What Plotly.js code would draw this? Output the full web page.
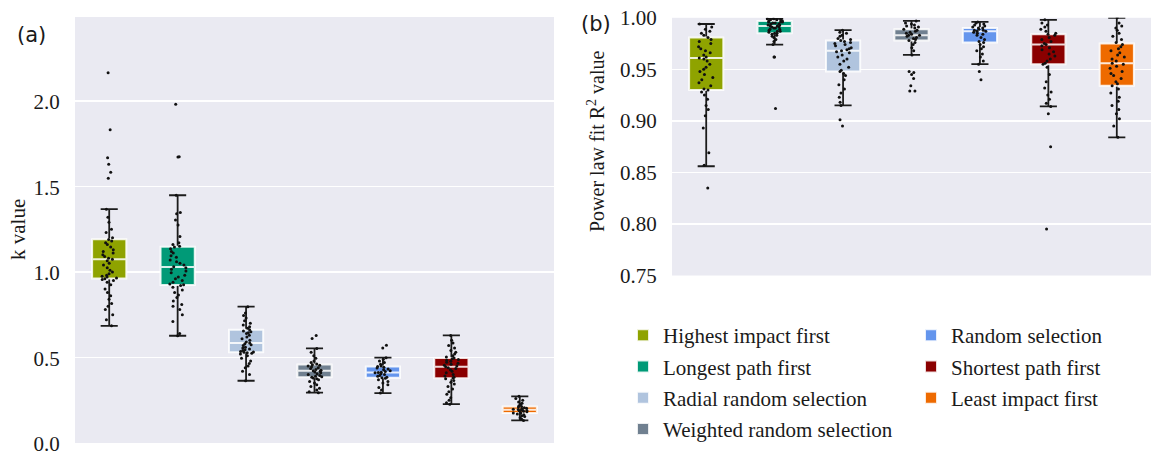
<!DOCTYPE html>
<html>
<head>
<meta charset="utf-8">
<script src="https://cdn.plot.ly/plotly-3.0.1.min.js"></script>
<style>html,body{margin:0;padding:0;background:#fff;}#chart{width:1156px;height:455px;}</style>
</head>
<body>
<div id="chart"></div>
<script>
// ---- categories & colours ----
const categories = ["Highest impact first", "Longest path first", "Radial random selection",
  "Weighted random selection", "Random selection", "Shortest path first", "Least impact first"];
const colors = ["#8fa300", "#009a77", "#b0c4de", "#708090", "#6495ed", "#8b0000", "#ee6a00"];

// ---- panel (a): k value box statistics ----
const kQ1     = [0.961, 0.923, 0.530, 0.385, 0.381, 0.379, 0.175];
const kMedian = [1.074, 1.029, 0.584, 0.422, 0.412, 0.445, 0.194];
const kQ3     = [1.191, 1.147, 0.662, 0.459, 0.447, 0.497, 0.213];
const kLower  = [0.685, 0.627, 0.364, 0.294, 0.292, 0.227, 0.132];
const kUpper  = [1.367, 1.448, 0.797, 0.553, 0.499, 0.629, 0.273];

// ---- panel (a): individual k values ----
const kHighest = [2.164,1.831,1.667,1.630,1.582,1.547,1.367,1.320,1.290,1.250,1.230,1.200,1.190,1.180,1.170,1.160,1.145,1.130,1.120,1.110,1.100,1.090,1.080,1.074,1.065,1.050,1.040,1.025,1.010,1.000,0.990,0.980,0.975,0.970,0.965,0.960,0.955,0.950,0.940,0.925,0.900,0.880,0.860,0.840,0.815,0.800,0.780,0.750,0.720,0.685];
const kLongest = [1.980,1.673,1.672,1.448,1.348,1.340,1.303,1.274,1.207,1.170,1.160,1.150,1.145,1.135,1.120,1.110,1.095,1.085,1.070,1.060,1.050,1.040,1.030,1.025,1.015,1.005,0.995,0.980,0.970,0.960,0.950,0.940,0.930,0.925,0.920,0.910,0.895,0.880,0.865,0.850,0.830,0.810,0.800,0.780,0.750,0.710,0.640,0.627];
const kRadial = [0.797,0.760,0.745,0.730,0.715,0.700,0.690,0.680,0.670,0.662,0.655,0.650,0.645,0.640,0.630,0.620,0.610,0.600,0.590,0.585,0.580,0.575,0.570,0.560,0.555,0.550,0.545,0.540,0.535,0.532,0.530,0.528,0.525,0.520,0.510,0.495,0.480,0.465,0.450,0.440,0.420,0.400,0.364];
const kWeighted = [0.629,0.611,0.553,0.530,0.510,0.495,0.480,0.470,0.462,0.458,0.455,0.450,0.445,0.440,0.435,0.430,0.425,0.422,0.420,0.415,0.410,0.405,0.400,0.395,0.390,0.387,0.385,0.380,0.375,0.370,0.360,0.350,0.340,0.330,0.320,0.310,0.300,0.294];
const kRandom = [0.571,0.555,0.499,0.490,0.480,0.470,0.460,0.450,0.447,0.443,0.438,0.432,0.428,0.422,0.418,0.414,0.412,0.410,0.405,0.400,0.395,0.390,0.385,0.382,0.378,0.370,0.360,0.350,0.340,0.325,0.310,0.292];
const kShortest = [0.629,0.600,0.585,0.570,0.555,0.540,0.530,0.520,0.510,0.502,0.497,0.492,0.488,0.483,0.478,0.472,0.466,0.460,0.455,0.450,0.445,0.440,0.435,0.428,0.420,0.410,0.400,0.392,0.385,0.380,0.375,0.365,0.355,0.345,0.330,0.315,0.300,0.285,0.265,0.250,0.235,0.227];
const kLeast = [0.273,0.260,0.250,0.240,0.232,0.225,0.218,0.214,0.210,0.206,0.203,0.200,0.198,0.196,0.194,0.192,0.190,0.188,0.185,0.182,0.179,0.176,0.174,0.170,0.165,0.160,0.155,0.148,0.140,0.132];

// ---- panel (b): power-law fit R² box statistics ----
const r2Q1     = [0.930, 0.985, 0.948, 0.978, 0.976, 0.955, 0.934];
const r2Median = [0.961, 0.992, 0.968, 0.983, 0.987, 0.974, 0.956];
const r2Q3     = [0.981, 0.997, 0.978, 0.989, 0.990, 0.984, 0.975];
const r2Lower  = [0.856, 0.974, 0.915, 0.964, 0.955, 0.914, 0.884];
const r2Upper  = [0.994, 0.999, 0.988, 0.997, 0.996, 0.998, 1.000];

// ---- panel (b): individual R² values ----
const r2Highest = [0.994,0.991,0.989,0.987,0.985,0.983,0.981,0.979,0.977,0.975,0.972,0.970,0.968,0.966,0.964,0.962,0.961,0.960,0.958,0.955,0.952,0.950,0.948,0.945,0.942,0.940,0.937,0.934,0.931,0.930,0.928,0.925,0.921,0.915,0.911,0.905,0.893,0.869,0.857,0.835];
const r2Longest = [0.999,0.999,0.998,0.998,0.998,0.997,0.997,0.996,0.996,0.996,0.995,0.995,0.994,0.994,0.993,0.993,0.992,0.992,0.991,0.991,0.990,0.990,0.989,0.989,0.988,0.987,0.987,0.986,0.985,0.985,0.984,0.983,0.982,0.981,0.979,0.977,0.974,0.962,0.962,0.912];
const r2Radial = [0.988,0.986,0.985,0.983,0.982,0.980,0.979,0.978,0.977,0.976,0.975,0.974,0.973,0.971,0.970,0.969,0.968,0.967,0.966,0.964,0.962,0.960,0.958,0.955,0.952,0.949,0.948,0.946,0.944,0.940,0.935,0.931,0.927,0.923,0.918,0.915,0.901,0.895];
const r2Weighted = [0.997,0.995,0.994,0.993,0.992,0.991,0.990,0.989,0.988,0.987,0.986,0.985,0.984,0.983,0.983,0.982,0.981,0.980,0.979,0.978,0.976,0.974,0.971,0.968,0.964,0.948,0.947,0.945,0.941,0.934,0.929,0.929];
const r2Random = [0.996,0.995,0.994,0.993,0.992,0.991,0.990,0.990,0.989,0.988,0.988,0.987,0.987,0.986,0.985,0.984,0.983,0.981,0.979,0.977,0.976,0.974,0.972,0.970,0.968,0.965,0.962,0.958,0.955,0.948,0.940];
const r2Shortest = [0.998,0.995,0.993,0.991,0.989,0.987,0.985,0.984,0.983,0.981,0.979,0.977,0.975,0.974,0.973,0.971,0.969,0.967,0.965,0.963,0.960,0.958,0.956,0.955,0.952,0.945,0.938,0.932,0.928,0.925,0.921,0.917,0.914,0.907,0.875,0.795];
const r2Least = [1.000,0.995,0.992,0.990,0.988,0.985,0.982,0.979,0.976,0.974,0.972,0.970,0.968,0.966,0.964,0.962,0.960,0.958,0.956,0.955,0.953,0.951,0.948,0.946,0.944,0.941,0.938,0.936,0.934,0.931,0.927,0.923,0.919,0.915,0.911,0.907,0.902,0.895,0.884];

// ---- tick labels ----
const kTickVals = [0, 0.5, 1.0, 1.5, 2.0];
const kTickText = ["0.0", "0.5", "1.0", "1.5", "2.0"];
const r2TickVals = [0.75, 0.80, 0.85, 0.90, 0.95, 1.00];
const r2TickText = ["0.75", "0.80", "0.85", "0.90", "0.95", "1.00"];

const kSamples = [kHighest, kLongest, kRadial, kWeighted, kRandom, kShortest, kLeast];
const r2Samples = [r2Highest, r2Longest, r2Radial, r2Weighted, r2Random, r2Shortest, r2Least];

const SERIF = "Liberation Serif, Times New Roman, serif";
const BOXW = 0.5;

function panelTraces(q1, med, q3, lo, hi, samples, xa, ya, withLegend) {
  const tr = [];
  // black whiskers + caps (box collapsed onto the median, hidden by coloured box)
  tr.push({
    type: "box", x: categories, q1: med, median: med, q3: med,
    lowerfence: lo, upperfence: hi, boxpoints: false,
    xaxis: xa, yaxis: ya, width: BOXW, whiskerwidth: 0.5,
    line: {color: "#1c1c1c", width: 1.8}, fillcolor: "rgba(0,0,0,0)",
    showlegend: false, hoverinfo: "skip"
  });
  // coloured interquartile boxes with white median
  categories.forEach((c, i) => {
    tr.push({
      type: "box", name: c, x: [c], q1: [q1[i]], median: [med[i]], q3: [q3[i]],
      lowerfence: [q1[i]], upperfence: [q3[i]], boxpoints: false,
      xaxis: xa, yaxis: ya, width: BOXW, whiskerwidth: 0,
      fillcolor: colors[i], line: {color: "rgba(255,255,255,0.85)", width: 2},
      showlegend: withLegend, legend: i < 4 ? "legend" : "legend2",
      legendgroup: "g" + i, hoverinfo: "skip"
    });
  });
  // jittered individual values
  const px = [], py = [];
  samples.forEach((arr, i) => arr.forEach(v => { px.push(categories[i]); py.push(v); }));
  tr.push({
    type: "box", x: px, y: py, boxpoints: "all", jitter: 0.5, pointpos: 0,
    xaxis: xa, yaxis: ya, width: BOXW,
    marker: {color: "#111", size: 3}, line: {color: "rgba(0,0,0,0)", width: 0},
    fillcolor: "rgba(0,0,0,0)", showlegend: false, hoverinfo: "skip"
  });
  return tr;
}

const data = [].concat(
  panelTraces(kQ1, kMedian, kQ3, kLower, kUpper, kSamples, "x", "y", true),
  panelTraces(r2Q1, r2Median, r2Q3, r2Lower, r2Upper, r2Samples, "x2", "y2", false)
);

const W = 1156, H = 455;
const tickFont = {family: SERIF, size: 21, color: "#1a1a1a"};
const xCommon = {showticklabels: false, showgrid: false, zeroline: false, showline: false,
  ticks: "", range: [-0.5, 6.5], type: "category", categoryorder: "array", categoryarray: categories};
const yCommon = {showgrid: true, gridcolor: "#ffffff", gridwidth: 1.6, zeroline: false, showline: false,
  ticks: "outside", ticklen: 10, tickcolor: "rgba(0,0,0,0)", tickfont: tickFont,
  ticklabeloverflow: "allow"};

const legendFont = {family: SERIF, size: 21, color: "#1a1a1a"};

const layout = {
  width: W, height: H,
  margin: {l: 0, r: 0, t: 0, b: 0},
  paper_bgcolor: "#ffffff", plot_bgcolor: "#eaeaf2",
  boxmode: "overlay", hovermode: false,
  xaxis: Object.assign({}, xCommon, {domain: [75 / W, 554 / W], anchor: "y"}),
  yaxis: Object.assign({}, yCommon, {domain: [(H - 443) / H, (H - 17) / H], anchor: "x",
    range: [0, 2.49], tickvals: kTickVals, ticktext: kTickText, ticklabelshift: 1}),
  xaxis2: Object.assign({}, xCommon, {domain: [672 / W, 1151 / W], anchor: "y2"}),
  yaxis2: Object.assign({}, yCommon, {domain: [(H - 275.5) / H, (H - 17.8) / H], anchor: "x2",
    range: [0.75, 1.0], tickvals: r2TickVals, ticktext: r2TickText}),
  legend: {x: 623 / W, y: 1 - 315 / H, xanchor: "left", yanchor: "top", bgcolor: "rgba(0,0,0,0)",
    font: legendFont, tracegroupgap: 1, itemwidth: 30},
  legend2: {x: 911 / W, y: 1 - 315 / H, xanchor: "left", yanchor: "top", bgcolor: "rgba(0,0,0,0)",
    font: legendFont, tracegroupgap: 1, itemwidth: 30},
  annotations: [
    {text: "(a)", xref: "paper", yref: "paper", x: 31 / W, y: 1 - 35 / H, showarrow: false,
      xanchor: "center", yanchor: "middle", font: {family: "DejaVu Sans, sans-serif", size: 21, color: "#1a1a1a"}},
    {text: "(b)", xref: "paper", yref: "paper", x: 596 / W, y: 1 - 24 / H, showarrow: false,
      xanchor: "center", yanchor: "middle", font: {family: "DejaVu Sans, sans-serif", size: 21, color: "#1a1a1a"}},
    {text: "k value", xref: "paper", yref: "paper", x: 18 / W, y: 1 - 230 / H, showarrow: false,
      textangle: -90, xanchor: "center", yanchor: "middle", font: {family: SERIF, size: 21, color: "#1a1a1a"}},
    {text: "Power law fit R<sup>2</sup> value", xref: "paper", yref: "paper", x: 596 / W, y: 1 - 141 / H,
      showarrow: false, textangle: -90, xanchor: "center", yanchor: "middle",
      font: {family: SERIF, size: 20, color: "#1a1a1a"}}
  ]
};

Plotly.newPlot("chart", data, layout, {displayModeBar: false, staticPlot: true});
</script>
</body>
</html>
